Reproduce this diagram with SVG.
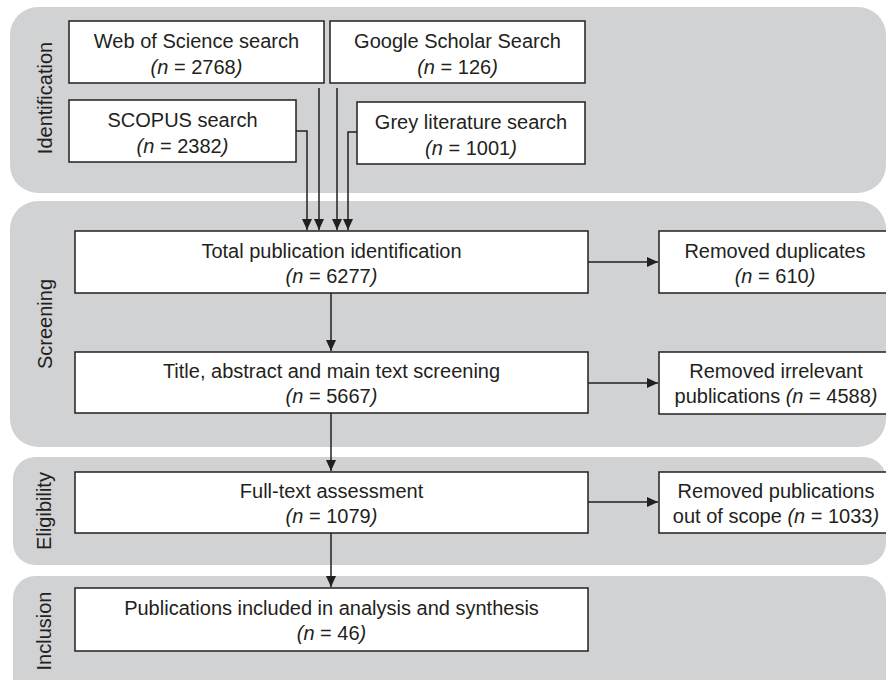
<svg xmlns="http://www.w3.org/2000/svg" width="886" height="680" viewBox="0 0 886 680">
<defs>
<style>
.band{fill:#d1d2d4;stroke:none}
.box{fill:#ffffff;stroke:#231f20;stroke-width:1.5}
.t{font-family:"Liberation Sans",Arial,sans-serif;font-size:20px;fill:#231f20;text-anchor:middle}
.side{font-family:"Liberation Sans",Arial,sans-serif;font-size:20px;fill:#231f20;text-anchor:middle}
.i{font-style:italic}
.c{fill:none;stroke:#231f20;stroke-width:1.5}
</style>
<marker id="ah" markerUnits="userSpaceOnUse" markerWidth="12" markerHeight="10" refX="11" refY="5" orient="auto">
<path d="M0,0 L11,5 L0,10 Z" fill="#231f20"/>
</marker>
</defs>
<g id="bands">
<rect class="band" x="10" y="7" width="876" height="186" rx="28"/>
<rect class="band" x="10" y="201" width="876" height="246" rx="28"/>
<rect class="band" x="13" y="457" width="873" height="108" rx="22"/>
<rect class="band" x="13" y="576" width="873" height="140" rx="22"/>
<text class="side" transform="translate(52,98) rotate(-90)">Identification</text>
<text class="side" transform="translate(52,324) rotate(-90)">Screening</text>
<text class="side" transform="translate(51,511) rotate(-90)">Eligibility</text>
<text class="side" transform="translate(51,631) rotate(-90)">Inclusion</text>
</g>
<g id="wos">
<rect class="box" x="69" y="21" width="255" height="62"/>
<text class="t" x="196.5" y="48">Web of Science search</text>
<text class="t" x="196.5" y="74"><tspan class="i">(n</tspan> = 2768<tspan class="i">)</tspan></text>
</g>
<g id="google">
<rect class="box" x="330" y="21" width="255" height="62"/>
<text class="t" x="457.5" y="48">Google Scholar Search</text>
<text class="t" x="457.5" y="74"><tspan class="i">(n</tspan> = 126<tspan class="i">)</tspan></text>
</g>
<g id="scopus">
<rect class="box" x="69" y="100" width="227" height="62"/>
<text class="t" x="182.5" y="127">SCOPUS search</text>
<text class="t" x="182.5" y="153"><tspan class="i">(n</tspan> = 2382<tspan class="i">)</tspan></text>
</g>
<g id="grey">
<rect class="box" x="357" y="102" width="228" height="62"/>
<text class="t" x="471" y="129">Grey literature search</text>
<text class="t" x="471" y="155"><tspan class="i">(n</tspan> = 1001<tspan class="i">)</tspan></text>
</g>
<g id="total">
<rect class="box" x="75" y="231" width="513" height="62"/>
<text class="t" x="331.5" y="258">Total publication identification</text>
<text class="t" x="331.5" y="283"><tspan class="i">(n</tspan> = 6277<tspan class="i">)</tspan></text>
</g>
<g id="duplicates">
<rect class="box" x="659" y="231" width="232" height="62"/>
<text class="t" x="775" y="258">Removed duplicates</text>
<text class="t" x="775" y="283"><tspan class="i">(n</tspan> = 610<tspan class="i">)</tspan></text>
</g>
<g id="screening">
<rect class="box" x="75" y="352" width="513" height="61"/>
<text class="t" x="331.5" y="378">Title, abstract and main text screening</text>
<text class="t" x="331.5" y="403"><tspan class="i">(n</tspan> = 5667<tspan class="i">)</tspan></text>
</g>
<g id="irrelevant">
<rect class="box" x="659" y="352" width="232" height="62"/>
<text class="t" x="776" y="378">Removed irrelevant</text>
<text class="t" x="776" y="403">publications <tspan class="i">(n</tspan> = 4588<tspan class="i">)</tspan></text>
</g>
<g id="fulltext">
<rect class="box" x="75" y="472" width="513" height="61"/>
<text class="t" x="331.5" y="498">Full-text assessment</text>
<text class="t" x="331.5" y="523"><tspan class="i">(n</tspan> = 1079<tspan class="i">)</tspan></text>
</g>
<g id="outofscope">
<rect class="box" x="659" y="472" width="232" height="61"/>
<text class="t" x="776" y="498">Removed publications</text>
<text class="t" x="776" y="523">out of scope <tspan class="i">(n</tspan> = 1033<tspan class="i">)</tspan></text>
</g>
<g id="included">
<rect class="box" x="75" y="588" width="513" height="63"/>
<text class="t" x="331.5" y="615">Publications included in analysis and synthesis</text>
<text class="t" x="331.5" y="640"><tspan class="i">(n</tspan> = 46<tspan class="i">)</tspan></text>
</g>
<g id="connectors">
<path class="c" d="M319,88 V230" marker-end="url(#ah)"/>
<path class="c" d="M337,88 V230" marker-end="url(#ah)"/>
<path class="c" d="M296,131 H307 V230" marker-end="url(#ah)"/>
<path class="c" d="M357,132 H348 V230" marker-end="url(#ah)"/>
<path class="c" d="M331,293 V351" marker-end="url(#ah)"/>
<path class="c" d="M588,262 H658" marker-end="url(#ah)"/>
<path class="c" d="M588,383 H658" marker-end="url(#ah)"/>
<path class="c" d="M331,413 V471" marker-end="url(#ah)"/>
<path class="c" d="M588,502 H658" marker-end="url(#ah)"/>
<path class="c" d="M331,533 V587" marker-end="url(#ah)"/>
</g>
</svg>
